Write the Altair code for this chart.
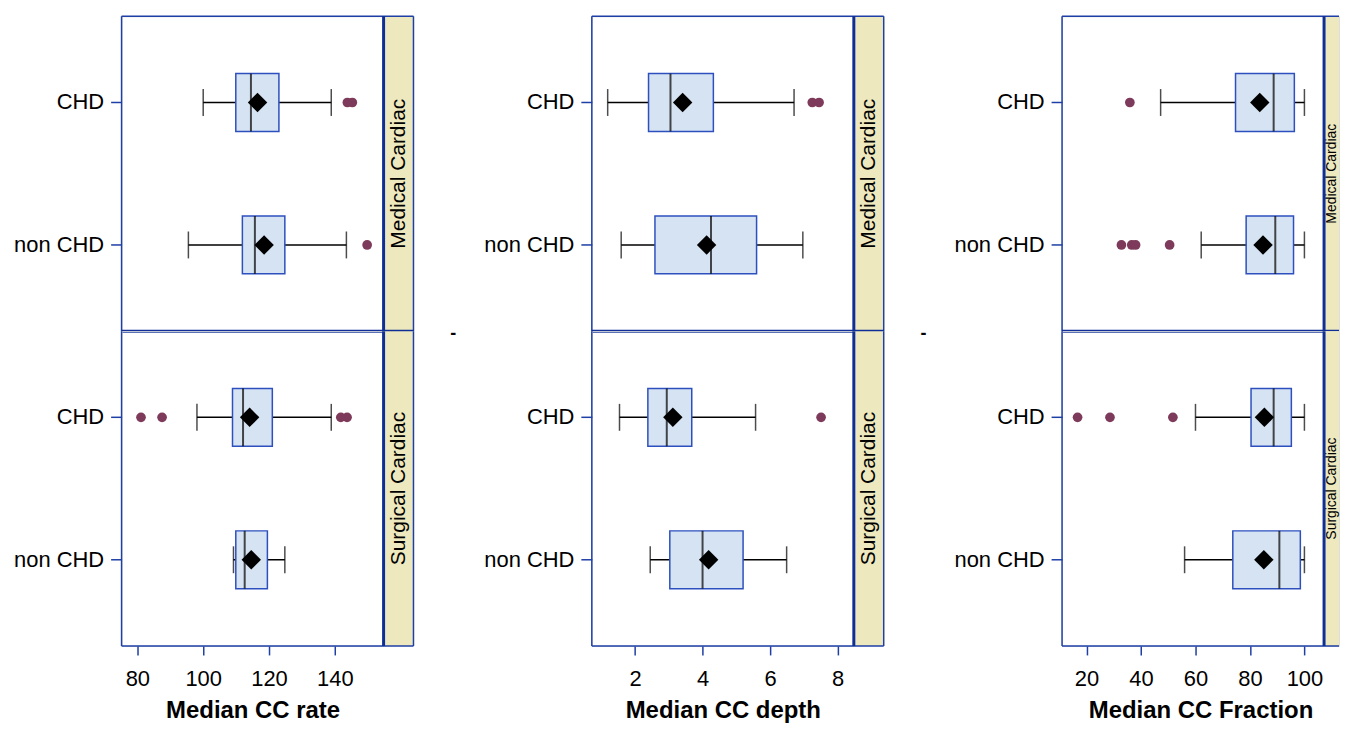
import altair as alt
import pandas as pd

# ---------------- data ----------------
cats = ["CHD", "non CHD"]
groups = ["Medical Cardiac", "Surgical Cardiac"]
measures = ["Median CC rate", "Median CC depth", "Median CC Fraction"]

# box statistics: [whisker low, Q1, median, Q3, whisker high, mean]
rate_med_chd = [100.0, 109.9, 114.5, 123.0, 138.9, 116.5]
rate_med_non = [95.5, 111.9, 115.7, 124.8, 143.5, 118.5]
rate_sur_chd = [98.1, 108.9, 112.1, 121.0, 138.9, 114.1]
rate_sur_non = [109.2, 109.9, 112.6, 119.5, 124.8, 114.6]

depth_med_chd = [1.19, 2.40, 3.05, 4.32, 6.71, 3.41]
depth_med_non = [1.59, 2.59, 4.25, 5.60, 6.97, 4.12]
depth_sur_chd = [1.54, 2.38, 2.94, 3.68, 5.57, 3.12]
depth_sur_non = [2.45, 3.03, 4.00, 5.20, 6.49, 4.18]

frac_med_chd = [47.2, 74.7, 88.7, 96.3, 100.0, 83.6]
frac_med_non = [62.1, 78.6, 89.3, 96.0, 100.0, 84.8]
frac_sur_chd = [60.0, 80.4, 88.7, 95.2, 100.0, 85.3]
frac_sur_non = [56.0, 73.7, 90.8, 98.5, 100.0, 85.1]

# outliers
rate_med_chd_out = [143.8, 145.3]
rate_med_non_out = [149.8]
rate_sur_chd_out = [81.1, 87.5, 141.8, 143.7]
rate_sur_non_out = []

depth_med_chd_out = [7.25, 7.45]
depth_med_non_out = []
depth_sur_chd_out = [7.51]
depth_sur_non_out = []

frac_med_chd_out = [35.9]
frac_med_non_out = [32.8, 36.6, 38.0, 50.5]
frac_sur_chd_out = [16.7, 28.6, 51.7]
frac_sur_non_out = []

# axis domains and ticks (fraction panel extends under its cut-off strip)
rate_domain = [75.2, 154.8]
depth_domain = [0.72, 8.48]
frac_domain = [11.0, 112.7]
rate_ticks = [80, 100, 120, 140]
depth_ticks = [2, 4, 6, 8]
frac_ticks = [20, 40, 60, 80, 100]

stats = {
    0: {0: [rate_med_chd, rate_med_non], 1: [rate_sur_chd, rate_sur_non]},
    1: {0: [depth_med_chd, depth_med_non], 1: [depth_sur_chd, depth_sur_non]},
    2: {0: [frac_med_chd, frac_med_non], 1: [frac_sur_chd, frac_sur_non]},
}
outs = {
    0: {0: [rate_med_chd_out, rate_med_non_out], 1: [rate_sur_chd_out, rate_sur_non_out]},
    1: {0: [depth_med_chd_out, depth_med_non_out], 1: [depth_sur_chd_out, depth_sur_non_out]},
    2: {0: [frac_med_chd_out, frac_med_non_out], 1: [frac_sur_chd_out, frac_sur_non_out]},
}
domains = [rate_domain, depth_domain, frac_domain]
ticks = [rate_ticks, depth_ticks, frac_ticks]

# ---------------- style ----------------
FONT = "Liberation Sans"
FRAME = "#1E3FA6"
DARK = "#0F2F96"
BOX_FILL = "#D6E3F2"
BOX_STROKE = "#2D50BE"
STRIP = "#EDE8BE"
OUT = "#7E3A5A"
W, H, SW = 263, 316, 30
W_LAST = 278


def rule(one, color, width, **enc):
    return alt.Chart(one).mark_rule(color=color, strokeWidth=width).encode(**enc)


def panel(mi, gi):
    bottom = gi == 1
    last = mi == 2
    width = W_LAST if last else W
    right = width if last else W + SW
    rows = []
    for ci, c in enumerate(cats):
        s = stats[mi][gi][ci]
        rows.append(dict(cat=c, lo=s[0], q1=s[1], med=s[2], q3=s[3], hi=s[4], mean=s[5]))
    bdf = pd.DataFrame(rows)
    orows = []
    for ci, c in enumerate(cats):
        for v in outs[mi][gi][ci]:
            orows.append(dict(cat=c, v=v))
    odf = pd.DataFrame(orows if orows else [dict(cat="CHD", v=None)])

    xs = alt.Scale(domain=domains[mi], nice=False, zero=False)
    if bottom:
        xaxis = alt.Axis(title=measures[mi], values=ticks[mi], domain=False,
                         tickColor=FRAME, tickWidth=1.5, tickSize=9, grid=False,
                         labelFontSize=22, labelColor="black", labelPadding=14,
                         titleFontSize=24, titleFontWeight="bold", titleColor="black",
                         titlePadding=9, labelFont=FONT, titleFont=FONT)
    else:
        xaxis = None
    ys = alt.Scale(paddingInner=0, paddingOuter=0.105)
    yaxis = alt.Axis(title=None, domain=False, tickColor=FRAME, tickWidth=1.5, tickSize=11,
                     labelFontSize=22, labelColor="black", labelPadding=7, grid=False,
                     labelFont=FONT)
    Y = alt.Y("cat:N", sort=cats, scale=ys, axis=yaxis)

    base = alt.Chart(bdf)
    whisk = base.mark_rule(color="black", strokeWidth=1.5).encode(
        x=alt.X("lo:Q", scale=xs, axis=xaxis), x2="hi:Q", y=Y)
    caps_lo = base.mark_tick(color="black", thickness=1.5, size=27).encode(
        x=alt.X("lo:Q", scale=xs, axis=xaxis), y=Y)
    caps_hi = base.mark_tick(color="black", thickness=1.5, size=27).encode(
        x=alt.X("hi:Q", scale=xs, axis=xaxis), y=Y)
    box = base.mark_bar(size=58, fill=BOX_FILL, stroke=BOX_STROKE, strokeWidth=1.5).encode(
        x=alt.X("q1:Q", scale=xs, axis=xaxis), x2="q3:Q", y=Y)
    med = base.mark_tick(color="black", thickness=2, size=58).encode(
        x=alt.X("med:Q", scale=xs, axis=xaxis), y=Y)
    mean = base.mark_point(shape="diamond", filled=True, size=380, color="black", opacity=1).encode(
        x=alt.X("mean:Q", scale=xs, axis=xaxis), y=Y)
    out = alt.Chart(odf).mark_circle(size=95, color=OUT, opacity=1).encode(
        x=alt.X("v:Q", scale=xs, axis=xaxis), y=Y)

    one = pd.DataFrame([dict(label=groups[gi])])
    strip = alt.Chart(one).mark_rect(fill=STRIP, strokeWidth=0).encode(
        x=alt.value(W), x2=alt.value(right), y=alt.value(0), y2=alt.value(H))
    tx = W + SW / 2 if not last else (W + right) / 2 + 0.5
    strip_txt = alt.Chart(one).mark_text(angle=270, align="center", baseline="middle",
                                         fontSize=(21 if not last else 14), font=FONT,
                                         color="black").encode(
        x=alt.value(tx), y=alt.value(H / 2), text="label:N")
    layers = [whisk, box, med, caps_lo, caps_hi, mean, out, strip, strip_txt]
    # frame
    layers.append(rule(one, FRAME, 1.5, x=alt.value(0), y=alt.value(0), y2=alt.value(H)))
    if not last:
        layers.append(rule(one, FRAME, 1.5, x=alt.value(right), y=alt.value(0), y2=alt.value(H)))
    if bottom:
        layers.append(rule(one, FRAME, 1.5, x=alt.value(0), x2=alt.value(right), y=alt.value(H)))
    else:
        layers.append(rule(one, FRAME, 1.5, x=alt.value(0), x2=alt.value(right), y=alt.value(0)))
        layers.append(rule(one, DARK, 3, x=alt.value(0), x2=alt.value(right), y=alt.value(H)))
    layers.append(rule(one, DARK, 3, x=alt.value(W), y=alt.value(0), y2=alt.value(H)))
    if bottom and mi > 0:
        dash = alt.Chart(one).mark_text(text="-", fontSize=18, fontWeight="bold", font=FONT,
                                        color="black", baseline="middle").encode(
            x=alt.value(-139), y=alt.value(3))
        layers.append(dash)
    return alt.layer(*layers).properties(width=width, height=H)


panels = []
for gi in range(2):
    for mi in range(3):
        panels.append(panel(mi, gi))

chart = alt.concat(*panels, columns=3, spacing={"row": 0, "column": 209}, bounds="flush").resolve_scale(
    x="independent").properties(
    padding={"left": 5, "top": 5, "right": 0, "bottom": 0}).configure_view(
    strokeOpacity=0, strokeWidth=0).configure(font=FONT, background="white")

chart.save("out.html", embed_options={"renderer": "svg", "actions": False})
